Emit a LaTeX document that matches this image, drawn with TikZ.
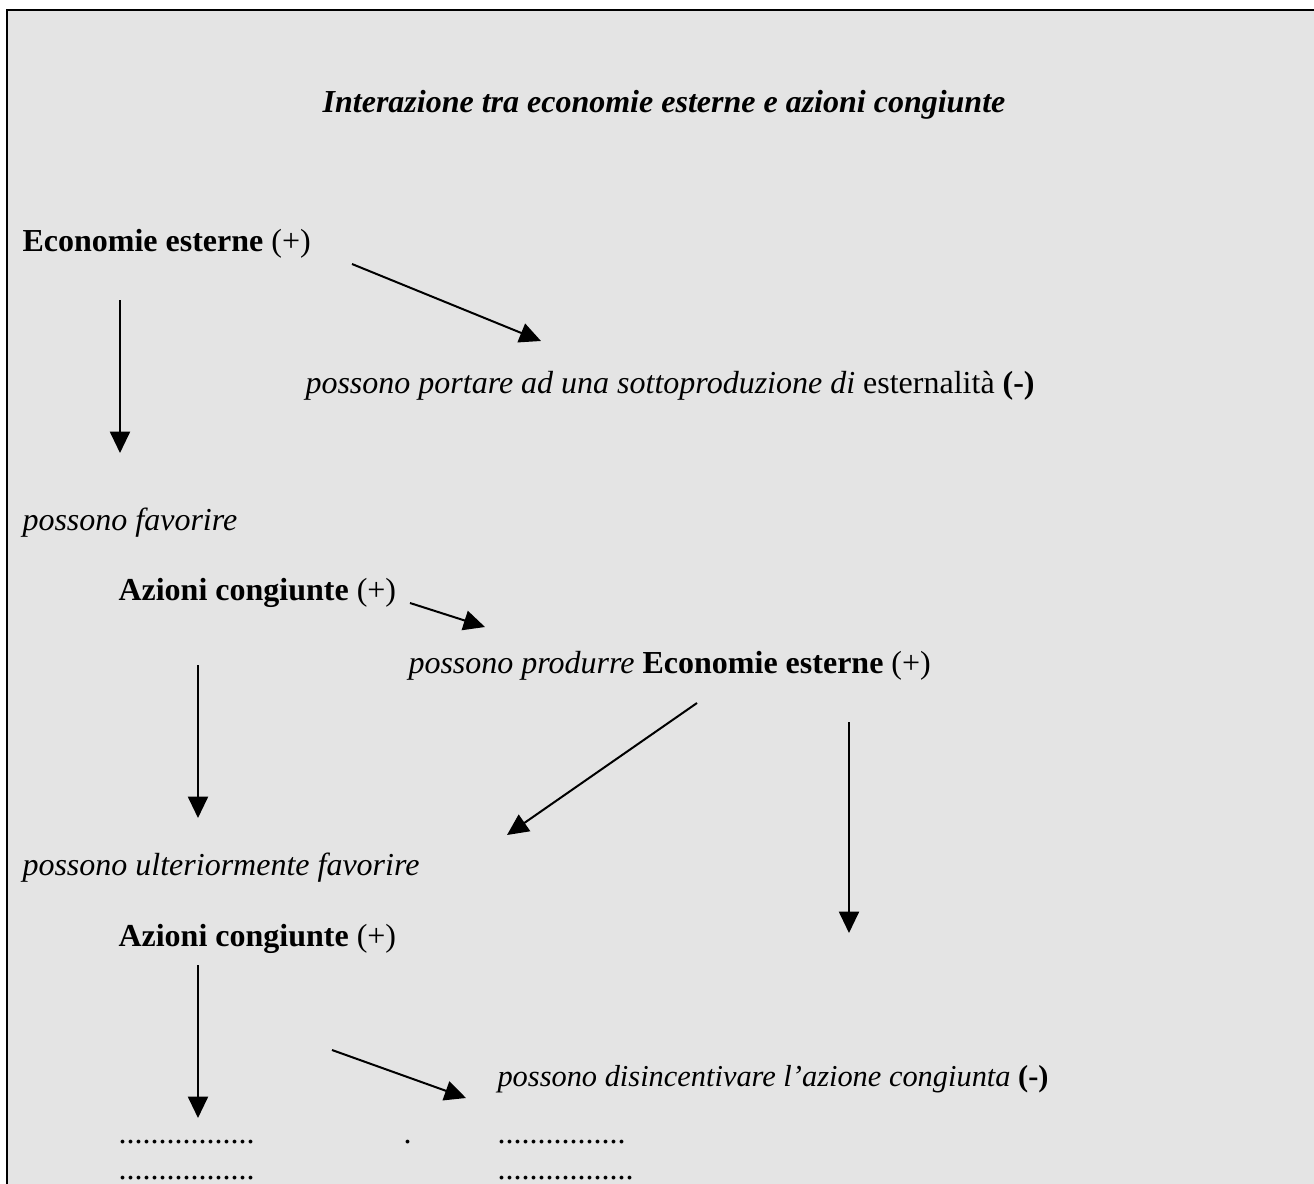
\documentclass[tikz,border=0pt]{standalone}
\usepackage{fontspec}
\setmainfont{Liberation Serif}
\usetikzlibrary{arrows.meta}
\definecolor{panelgray}{RGB}{228,228,228}

\begin{document}
\begin{tikzpicture}[
	x=0.375pt,y=-0.375pt,
	txt/.style={
	  anchor=base west,
	  inner sep=0pt,
	  font=\fontsize{12}{14}\selectfont
	},
	arr/.style={
	  line width=0.75pt,
	  -{Triangle[length=8pt,width=7.5pt]}
	}
]

\useasboundingbox (0,0) rectangle (1314,1184);
\clip (0,0) rectangle (1314,1184);
\draw[line width=1pt,fill=panelgray] (7,10) rectangle (1340,1220);

% title
\node[txt,anchor=base] (title) at (664,113)
  {\textbf{\textit{Interazione tra economie esterne e azioni congiunte}}};

% first level
\node[txt] (ee1) at (22,251) {\textbf{Economie esterne} (+)};
\node[txt] (sotto) at (305,393)
  {\textit{possono portare ad una sottoproduzione di} esternalità \textbf{(-)}};
\node[txt] (fav1) at (22,530) {\textit{possono favorire}};

% second level
\node[txt] (ac1) at (118,600) {\textbf{Azioni congiunte} (+)};
\node[txt] (prod) at (408,673)
  {\textit{possono produrre} \textbf{Economie esterne} (+)};
\node[txt] (fav2) at (22,875) {\textit{possono ulteriormente favorire}};

% third level
\node[txt] (ac2) at (118,946) {\textbf{Azioni congiunte} (+)};
\node[txt,font=\fontsize{11.4}{14}\selectfont] (disinc) at (497,1086)
  {\textit{possono disincentivare l’azione congiunta} \textbf{(-)}};

% dots
\node[txt] (dotsA1) at (118,1143) {.................};
\node[txt] (dotsA2) at (118,1179) {.................};
\node[txt] (dotB) at (403,1143) {.};
\node[txt] (dotsC1) at (497,1143) {................};
\node[txt] (dotsC2) at (497,1179) {.................};

% arrow ends
\coordinate (a1s) at (120,300);  \coordinate (a1e) at (120,453);
\coordinate (a2s) at (352,264);  \coordinate (a2e) at (541,341);
\coordinate (a3s) at (410,603);  \coordinate (a3e) at (485,627);
\coordinate (a4s) at (198,665);  \coordinate (a4e) at (198,818);
\coordinate (a5s) at (697,703);  \coordinate (a5e) at (507,835);
\coordinate (a6s) at (849,722);  \coordinate (a6e) at (849,933);
\coordinate (a7s) at (198,965);  \coordinate (a7e) at (198,1118);
\coordinate (a8s) at (332,1050); \coordinate (a8e) at (466,1098);

\draw[arr] (a1s) -- (a1e);
\draw[arr] (a2s) -- (a2e);
\draw[arr] (a3s) -- (a3e);
\draw[arr] (a4s) -- (a4e);
\draw[arr] (a5s) -- (a5e);
\draw[arr] (a6s) -- (a6e);
\draw[arr] (a7s) -- (a7e);
\draw[arr] (a8s) -- (a8e);

\end{tikzpicture}
\end{document}
